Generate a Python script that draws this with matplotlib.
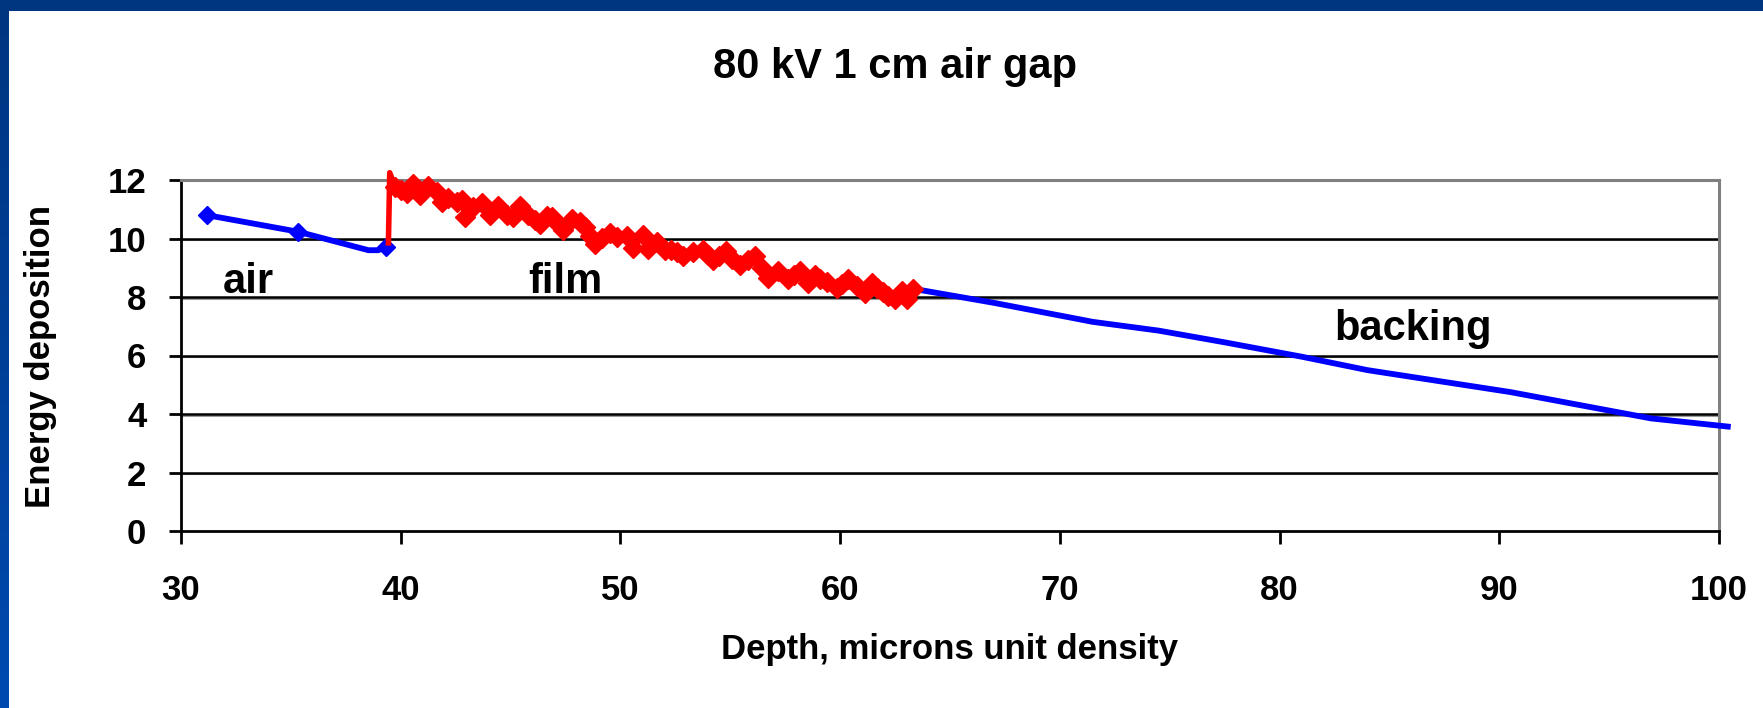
import numpy as np
import matplotlib
matplotlib.use("Agg")
import matplotlib.pyplot as plt
import matplotlib.transforms as mtransforms

plt.rcParams['font.family'] = ['Liberation Sans', 'DejaVu Sans']
plt.rcParams['font.weight'] = 'bold'

# air gap in front of the film
air_x = [31.17, 35.34, 38.53, 38.98, 39.32]
air_y = [10.80, 10.23, 9.60, 9.60, 9.72]
air_marks = [0, 1, 4]

# film layer
film_x = [39.44, 39.50, 39.75, 40.00, 40.27, 40.57, 40.88, 41.26, 41.64, 41.87, 42.17,
          42.55, 42.78, 42.93, 43.31, 43.69, 44.06, 44.44, 44.83, 45.13, 45.43,
          45.81, 46.10, 46.34, 46.65, 46.90, 47.15, 47.40, 47.78, 48.16, 48.39, 48.60,
          48.84, 49.15, 49.53, 49.83, 50.29, 50.59, 51.04, 51.27, 51.65, 52.03,
          52.30, 52.56, 52.86, 53.32, 53.77, 54.00, 54.23, 54.50, 54.80, 55.10, 55.44,
          55.80, 56.13, 56.45, 56.73, 57.19, 57.64, 57.90, 58.18, 58.55, 58.86, 59.10,
          59.39, 59.85, 60.10, 60.37, 60.76, 61.13, 61.44, 61.70, 61.97, 62.20,
          62.50, 62.80, 63.03, 63.33]
film_y = [9.85, 12.25, 11.75, 11.65, 11.54, 11.85, 11.49, 11.80, 11.60, 11.26, 11.37,
          11.26, 11.32, 10.75, 11.09, 11.20, 10.82, 11.12, 10.80, 10.72, 11.10,
          10.80, 10.62, 10.48, 10.78, 10.72, 10.50, 10.30, 10.65, 10.57, 10.40, 10.10,
          9.82, 10.01, 10.20, 10.06, 10.10, 9.68, 10.12, 9.63, 9.87, 9.62,
          9.60, 9.55, 9.40, 9.55, 9.60, 9.42, 9.28, 9.40, 9.58, 9.30, 9.10,
          9.25, 9.40, 9.00, 8.66, 8.90, 8.60, 8.75, 8.88, 8.48, 8.74, 8.62,
          8.52, 8.32, 8.45, 8.60, 8.36, 8.15, 8.48, 8.30, 8.18, 8.05,
          7.92, 8.22, 7.92, 8.28]

# backing material behind the film
back_x = [63.33, 67.0, 71.5, 74.5, 77.5, 81.0, 84.0, 90.5, 96.9, 100.4]
back_y = [8.28, 7.80, 7.15, 6.85, 6.45, 5.96, 5.50, 4.75, 3.85, 3.57]

x_ticks = [30, 40, 50, 60, 70, 80, 90, 100]
y_ticks = [0, 2, 4, 6, 8, 10, 12]

W, H = 1763, 708
fig = plt.figure(figsize=(W / 100, H / 100), dpi=100)
fig.patch.set_facecolor('white')

# dark blue slide frame: top bar and left gradient bar
top = fig.add_axes([0, 1 - 11 / H, 1, 11 / H])
top.set_facecolor('#003580')
top.set_xticks([]); top.set_yticks([])
for s in top.spines.values():
    s.set_visible(False)
side = fig.add_axes([0, 0, 9 / W, 1])
grad = np.linspace(0, 1, 256).reshape(-1, 1)
c0 = np.array([0, 53, 128]) / 255
c1 = np.array([0, 74, 176]) / 255
side.imshow(c0 + grad[..., None] * (c1 - c0), aspect='auto', origin='upper')
side.set_axis_off()

ax = fig.add_axes([181 / W, 1 - 531 / H, (1719 - 181) / W, (531 - 180) / H])
ax.set_xlim(30, 100)
ax.set_ylim(0, 12)

# gridlines with a light shadow underneath
shadow = mtransforms.offset_copy(ax.transData, fig=fig, x=0, y=-1.5, units='dots')
for v in y_ticks[1:-1]:
    ax.plot([30, 100], [v, v], color='#9a9a9a', lw=1.5, transform=shadow, zorder=1)
    ax.plot([30, 100], [v, v], color='black', lw=1.8, zorder=1)

for side_name in ['top', 'right']:
    ax.spines[side_name].set_color('#808080')
    ax.spines[side_name].set_linewidth(2.2)
for side_name in ['left', 'bottom']:
    ax.spines[side_name].set_color('black')
    ax.spines[side_name].set_linewidth(2.0)

ax.plot(air_x, air_y, color='#0000ff', lw=4.2, marker='D', markersize=9,
        markevery=air_marks, clip_on=False, zorder=3)
ax.plot(back_x, back_y, color='#0000ff', lw=4.2, clip_on=False, zorder=3)
ax.plot(film_x, film_y, color='#ff0000', lw=4.0, marker='D', markersize=10,
        markevery=list(range(2, len(film_x))), clip_on=False, zorder=4)

ax.set_xticks(x_ticks)
ax.set_yticks(y_ticks)
ax.tick_params(axis='x', direction='out', length=9, width=2, pad=22, labelsize=25)
ax.tick_params(axis='y', direction='out', length=9, width=2, pad=16, labelsize=25)

ax.text(31.9, 8.14, 'air', fontsize=30, fontweight='bold')
ax.text(45.8, 8.14, 'film', fontsize=30, fontweight='bold')
ax.text(82.5, 6.53, 'backing', fontsize=30, fontweight='bold')

fig.text(895 / W, 1 - 67 / H, '80 kV 1 cm air gap', fontsize=30,
         fontweight='bold', ha='center', va='center')
fig.text(950 / W, 1 - 649 / H, 'Depth, microns unit density', fontsize=25,
         fontweight='bold', ha='center', va='center')
fig.text(41 / W, 1 - 356 / H, 'Energy deposition', fontsize=25,
         fontweight='bold', ha='center', va='center', rotation=90)

fig.savefig('out.png', dpi=100, facecolor='white')
